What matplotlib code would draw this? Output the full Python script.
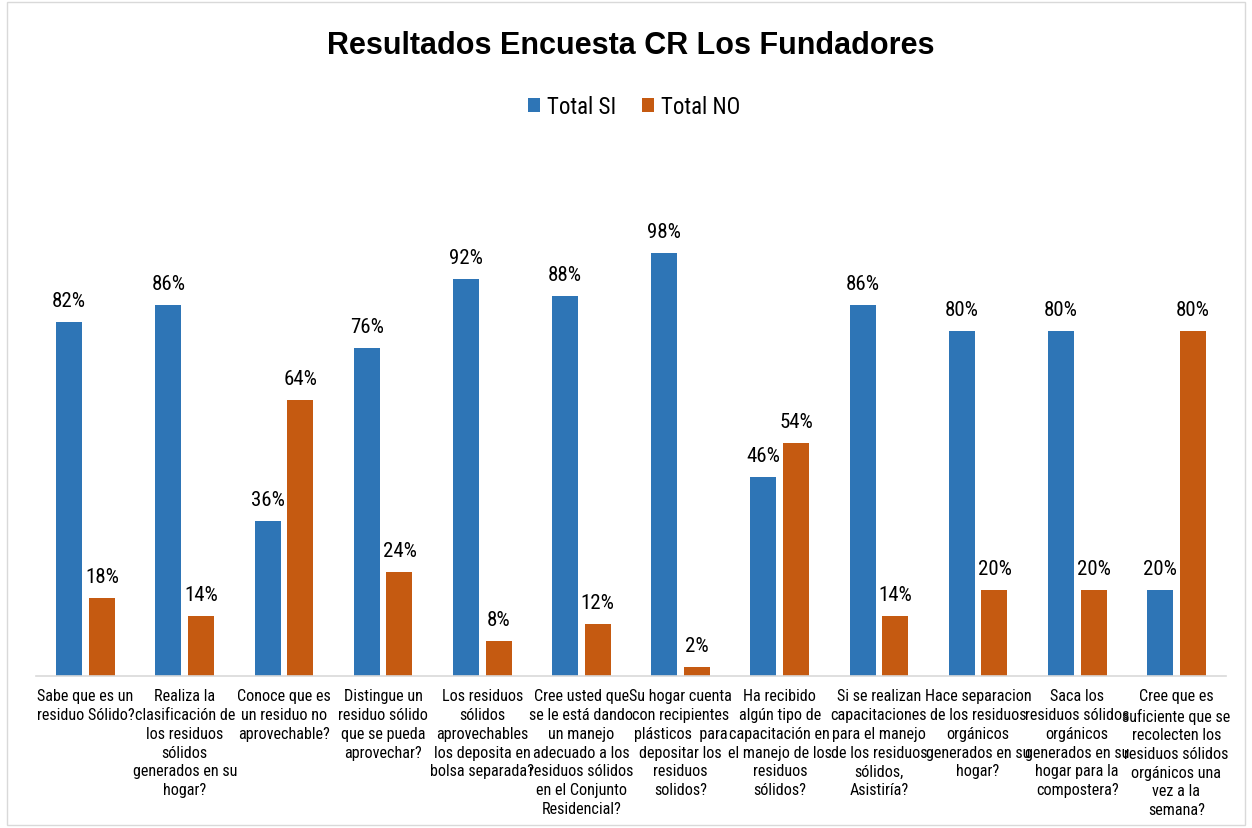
import matplotlib
matplotlib.use("Agg")
import matplotlib.pyplot as plt
from matplotlib import font_manager
from matplotlib.patches import Rectangle

names = {f.name for f in font_manager.fontManager.ttflist}
narrow = None
for cand in ['Liberation Sans Narrow', 'Arial Narrow', 'Nimbus Sans Narrow',
             'Roboto Condensed', 'Archivo Narrow', 'IBM Plex Sans Condensed']:
    if cand in names:
        narrow = cand
        break
base_fam = ['Liberation Sans', 'DejaVu Sans']
nfam = ([narrow] if narrow else []) + base_fam
plt.rcParams['font.family'] = nfam

categories = [
    "Sabe que es un\nresiduo Sólido?",
    "Realiza la\nclasificación de\nlos residuos\nsólidos\ngenerados en su\nhogar?",
    "Conoce que es\nun residuo no\naprovechable?",
    "Distingue un\nresiduo sólido\nque se pueda\naprovechar?",
    "Los residuos\nsólidos\naprovechables\nlos deposita en\nbolsa separada?",
    "Cree usted que\nse le está dando\nun manejo\nadecuado a los\nresiduos sólidos\nen el Conjunto\nResidencial?",
    "Su hogar cuenta\ncon recipientes\nplásticos  para\ndepositar los\nresiduos\nsolidos?",
    "Ha recibido\nalgún tipo de\ncapacitación en\nel manejo de los\nresiduos\nsólidos?",
    "Si se realizan\ncapacitaciones\npara el manejo\nde los residuos\nsólidos,\nAsistiría?",
    "Hace separacion\nde los residuos\norgánicos\ngenerados en su\nhogar?",
    "Saca los\nresiduos sólidos\norgánicos\ngenerados en su\nhogar para la\ncompostera?",
    "Cree que es\nsuficiente que se\nrecolecten los\nresiduos sólidos\norgánicos una\nvez a la\nsemana?",
]
total_si = [0.82, 0.86, 0.36, 0.76, 0.92, 0.88, 0.98, 0.46, 0.86, 0.80, 0.80, 0.20]
total_no = [0.18, 0.14, 0.64, 0.24, 0.08, 0.12, 0.02, 0.54, 0.14, 0.20, 0.20, 0.80]
series_names = ["Total SI", "Total NO"]
title = "Resultados Encuesta CR Los Fundadores"

blue = "#2E75B6"
orange = "#C55A11"

W, H = 1252, 829
fig = plt.figure(figsize=(W / 100, H / 100), dpi=100)
fig.patch.set_facecolor("white")

fig.patches.append(Rectangle((7 / W, 1 - 826 / H), (1245 - 7) / W, (826 - 3) / H,
                             transform=fig.transFigure, fill=False,
                             edgecolor="#D9D9D9", linewidth=1.0))

left, right = 36, 1226
bottom, top = 677, 159
ax = fig.add_axes([left / W, 1 - bottom / H, (right - left) / W, (bottom - top) / H])

x = list(range(len(categories)))
bw = 0.262
off = 0.165
xs_si = [i - off for i in x]
xs_no = [i + off for i in x]
b1 = ax.bar(xs_si, total_si, width=bw, color=blue, label=series_names[0])
b2 = ax.bar(xs_no, total_no, width=bw, color=orange, label=series_names[1])

for xs, vals in ((xs_si, total_si), (xs_no, total_no)):
    for xi, v in zip(xs, vals):
        ax.annotate(f"{round(v * 100)}%", (xi, v), xytext=(0, 11.5),
                    textcoords="offset points", ha="center", va="baseline",
                    fontsize=15, color="#000000")

ax.set_xlim(-0.5, len(categories) - 0.5)
ax.set_ylim(0, 1.2)
ax.set_yticks([])
ax.set_xticks(x)
ax.set_xticklabels(categories, fontsize=11.6, linespacing=1.31)
ax.tick_params(axis="x", length=0, pad=9)
for s in ("top", "right", "left"):
    ax.spines[s].set_visible(False)
ax.spines["bottom"].set_color("#D9D9D9")
ax.spines["bottom"].set_linewidth(1.2)
ax.set_facecolor("none")

fig.text(631 / W, 1 - 46 / H, title, ha="center", va="center",
         fontsize=22, fontweight="bold", color="#000000", family=base_fam)

leg = fig.legend(handles=[b1, b2], labels=series_names, loc="center",
                 bbox_to_anchor=(634 / W, 1 - 108 / H), ncol=2, frameon=False,
                 fontsize=16.5, handlelength=0.55, handleheight=0.55,
                 handletextpad=0.3, columnspacing=1.1)

fig.savefig("out.png", dpi=100, facecolor="white")
